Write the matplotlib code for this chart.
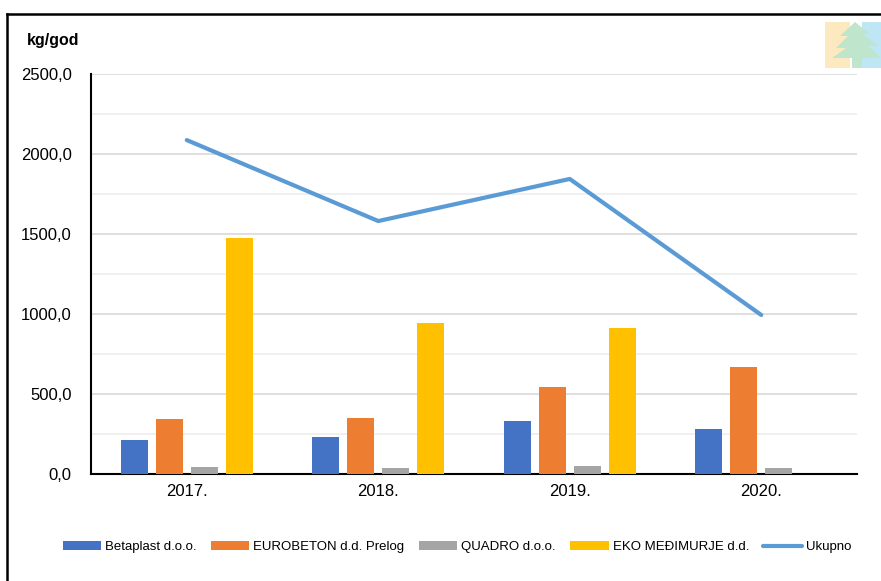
import matplotlib.pyplot as plt
import numpy as np
from matplotlib.patches import Polygon, Rectangle
from matplotlib.lines import Line2D
from matplotlib.ticker import MultipleLocator, FuncFormatter

plt.rcParams['font.family'] = ['Liberation Sans', 'DejaVu Sans']

years = ['2017.', '2018.', '2019.', '2020.']
betaplast = [212, 231, 329, 279]
eurobeton = [342, 352, 542, 669]
quadro = [44, 37, 50, 37]
eko = [1475, 944, 912, 0]
ukupno = [2087, 1581, 1844, 994]

series = [
    ('Betaplast d.o.o.', betaplast, '#4472c4'),
    ('EUROBETON d.d. Prelog', eurobeton, '#ed7d31'),
    ('QUADRO d.o.o.', quadro, '#a5a5a5'),
    ('EKO MEĐIMURJE d.d.', eko, '#ffc000'),
]

fig = plt.figure(figsize=(8.81, 5.81), dpi=100)
ax = fig.add_axes([91/881, 1 - 474/581, (857 - 91)/881, 400/581])

x = np.arange(len(years))
slot = 0.183
width = 0.141
handles = []
for i, (name, vals, col) in enumerate(series):
    b = ax.bar(x + (i - 1.5) * slot, vals, width, color=col, label=name, zorder=3)
    handles.append(b)

ln, = ax.plot(x, ukupno, color='#5b9bd5', lw=3, solid_capstyle='round',
              label='Ukupno', zorder=4)
handles.append(ln)

ax.set_xlim(-0.5, 3.5)
ax.set_ylim(0, 2500)
ax.set_xticks(x)
ax.set_xticklabels(years, fontsize=12)
ax.yaxis.set_major_locator(MultipleLocator(500))
ax.yaxis.set_minor_locator(MultipleLocator(250))
ax.yaxis.set_major_formatter(FuncFormatter(lambda v, p: f'{v:.1f}'.replace('.', ',')))
ax.tick_params(axis='y', labelsize=12, length=0, which='both', pad=14)
ax.tick_params(axis='x', length=0, pad=7)
ax.grid(axis='y', which='major', color='#d9d9d9', lw=1.2, zorder=0)
ax.grid(axis='y', which='minor', color='#eeeeee', lw=1.2, zorder=0)
for s in ['top', 'right']:
    ax.spines[s].set_visible(False)
ax.spines['left'].set_linewidth(1.5)
ax.spines['bottom'].set_linewidth(1.5)

fig.text(27/881, 1 - 40/581, 'kg/god', fontsize=11.5, fontweight='bold', va='center')

fig.legend(handles=handles, loc='center', bbox_to_anchor=(457/881, 1 - 547/581),
           ncol=5, frameon=False, fontsize=9.5, handlelength=2.9,
           handletextpad=0.3, columnspacing=1.1)

# outer frame
fig.add_artist(Line2D([7/881, 1], [1 - 14/581, 1 - 14/581], color='black', lw=1.8))
fig.add_artist(Line2D([7/881, 7/881], [0, 1 - 14/581], color='black', lw=1.8))

# small logo, top right
def fx(px):
    return px / 881

def fy(py):
    return 1 - py / 581

fig.add_artist(Rectangle((fx(825), fy(68)), fx(25), 46/581, color='#fde9c0', lw=0))
fig.add_artist(Rectangle((fx(862), fy(68)), fx(19), 46/581, color='#bfe6f5', lw=0))
tree = [(855, 22), (870, 34), (862, 34), (879, 46), (868, 46), (881, 58), (862, 58),
        (862, 68), (852, 68), (852, 58), (832, 58), (846, 48), (836, 48), (848, 36),
        (840, 36)]
fig.add_artist(Polygon([(fx(a), fy(b)) for a, b in tree], closed=True,
                       color='#bfe5cd', lw=0))

fig.savefig('out.png', dpi=100)
